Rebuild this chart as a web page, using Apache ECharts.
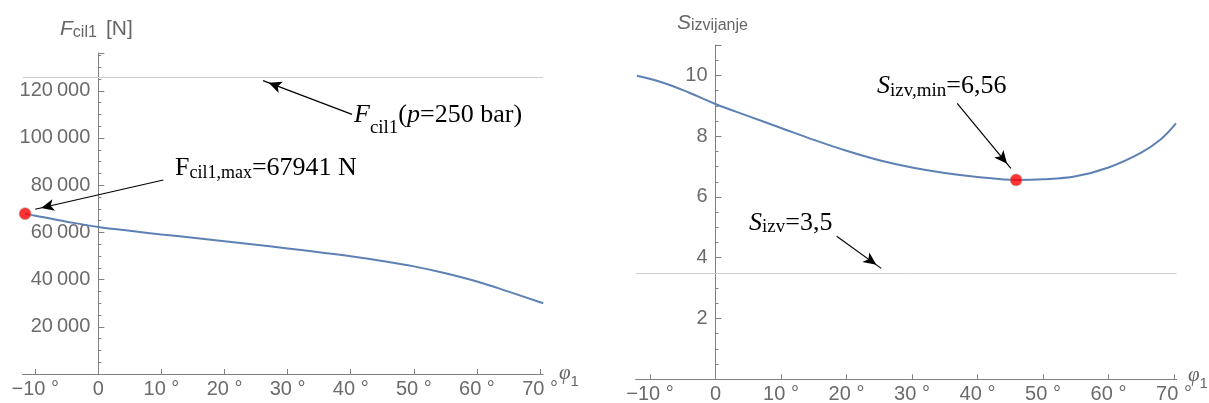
<!DOCTYPE html>
<html><head><meta charset="utf-8">
<script src="https://cdn.jsdelivr.net/npm/echarts@6/dist/echarts.min.js"></script>
<style>html,body{margin:0;padding:0;background:#fff}#c{width:1209px;height:403px}</style>
</head><body><div id="c"></div>
<script>
// ---- data ----
const phiF = [-11.6, -10, -5, 0, 5, 10, 15, 20, 25, 30, 35, 40, 45, 50, 55, 60, 65, 70.5];
const Fcil = [67941, 67080, 64550, 62300, 60650, 59150, 57700, 56250, 54750, 53200, 51600, 49900, 47900, 45600, 42700, 39200, 34900, 29950];
const FmaxPoint = [-11.6, 67941];
const Fp250 = 125664;

const phiS = [-12, -8, -4, 0, 5, 10, 15, 20, 25, 30, 35, 40, 45.9, 50, 55, 60, 65, 68, 70.3];
const Sizv = [9.99, 9.76, 9.43, 9.06, 8.66, 8.27, 7.88, 7.52, 7.21, 6.97, 6.79, 6.66, 6.56, 6.58, 6.68, 6.97, 7.46, 7.90, 8.42];
const SminPoint = [45.9, 6.56];
const Sallow = 3.5;

const xTicks = [-10, 0, 10, 20, 30, 40, 50, 60, 70];
const yTicksF = [20000, 40000, 60000, 80000, 100000, 120000];
const yTicksS = [2, 4, 6, 8, 10];

// annotation arrows [tail, tip] in data coordinates
const arrowsF = [[[40.2, 110000], [26.1, 124300]], [[10.3, 82200], [-10.0, 69800]]];
const arrowsS = [[[36.9, 9.08], [45.1, 6.94]], [[18.5, 4.71], [25.3, 3.65]]];

// ---- layout / styling ----
const G = [
  { left: 22.6, top: 53, width: 520.6, height: 321, xmin: -12, xmax: 70.5 },
  { left: 635.6, top: 45, width: 541, height: 334.3, xmin: -12.2, xmax: 70.4 }
];
const axisC = '#808080', labC = '#6b6b6b', blue = '#5E81B5', refC = '#cfcfcf';
const sans = '"Liberation Sans", Arial, sans-serif';
const serif = '"Liberation Serif", "Times New Roman", serif';

const fmtDeg = v => v === 0 ? '0' : (v < 0 ? '\u2212' + (-v) : v) + ' \u00b0';
const fmtThou = v => String(v).replace(/\B(?=(\d{3})+(?!\d))/g, '\u2009');

function xAxisCfg(gi) {
  return {
    gridIndex: gi, type: 'value', min: G[gi].xmin, max: G[gi].xmax,
    axisLine: { onZero: false, lineStyle: { color: axisC, width: 1 } },
    axisTick: { inside: true, length: 5, customValues: xTicks, lineStyle: { color: axisC } },
    axisLabel: { customValues: xTicks, formatter: fmtDeg, color: labC, fontSize: 20, fontFamily: sans, margin: 5 },
    splitLine: { show: false }
  };
}
function yAxisCfg(gi, max, interval, labels, fmt) {
  const g = G[gi];
  // place the vertical axis where x = 0 (axes cross at the origin)
  const off = -(0 - g.xmin) / (g.xmax - g.xmin) * g.width;
  return {
    gridIndex: gi, type: 'value', min: 0, max, interval, position: 'left', offset: off,
    axisLine: { show: true, onZero: false, lineStyle: { color: axisC, width: 1 } },
    axisTick: { inside: true, length: 6, lineStyle: { color: axisC } },
    minorTick: { show: true, splitNumber: 4, length: 3, lineStyle: { color: axisC } },
    axisLabel: { customValues: labels, formatter: fmt, color: labC, fontSize: 20, fontFamily: sans, margin: 8 },
    splitLine: { show: false }
  };
}
function arrowML(arr) {
  return {
    silent: true, animation: false, label: { show: false },
    lineStyle: { color: '#000', width: 1.2, type: 'solid' },
    data: arr.map(a => [
      { coord: a[0], symbol: 'none' },
      { coord: a[1], symbol: 'arrow', symbolSize: [9, 13], symbolOffset: [0, 6] }
    ])
  };
}

// rich text helper (measured segments)
const mctx = document.createElement('canvas').getContext('2d');
function rt(x, baseline, segs, color) {
  const children = []; let cx = 0;
  segs.forEach(s => {
    const fam = s.f || serif;
    mctx.font = (s.i ? 'italic ' : '') + s.size + 'px ' + fam;
    const w = mctx.measureText(s.t).width;
    if (s.x != null) cx = s.x;
    children.push({
      type: 'text', x: cx, y: (s.dy || 0) - 0.34 * s.size,
      style: { text: s.t, fontSize: s.size, fontFamily: fam, fontStyle: s.i ? 'italic' : 'normal',
               fill: color, align: 'left', verticalAlign: 'middle' }
    });
    cx += w;
  });
  return { type: 'group', x, y: baseline, children, silent: true };
}

const chart = echarts.init(document.getElementById('c'), null, { renderer: 'canvas' });
chart.setOption({
  animation: false,
  backgroundColor: '#fff',
  grid: G.map(g => ({ left: g.left, top: g.top, width: g.width, height: g.height, containLabel: false, outerBoundsMode: 'none' })),
  xAxis: [xAxisCfg(0), xAxisCfg(1)],
  yAxis: [yAxisCfg(0, 136000, 20000, yTicksF, fmtThou), yAxisCfg(1, 11, 2, yTicksS, v => String(v))],
  series: [
    { type: 'line', xAxisIndex: 0, yAxisIndex: 0, data: phiF.map((p, i) => [p, Fcil[i]]),
      smooth: 0.4, showSymbol: false, lineStyle: { color: blue, width: 2 }, z: 3,
      markLine: { silent: true, symbol: 'none', label: { show: false }, lineStyle: { color: refC, width: 1, type: 'solid' },
                  data: [{ yAxis: Fp250 }], z: 1 } },
    { type: 'scatter', xAxisIndex: 0, yAxisIndex: 0, data: [FmaxPoint], symbolSize: 12, z: 5,
      itemStyle: { color: '#ff0000', borderColor: '#aaa', borderWidth: 0.8 }, markLine: arrowML(arrowsF) },
    { type: 'line', xAxisIndex: 1, yAxisIndex: 1, data: phiS.map((p, i) => [p, Sizv[i]]),
      smooth: 0.4, showSymbol: false, lineStyle: { color: blue, width: 2 }, z: 3,
      markLine: { silent: true, symbol: 'none', label: { show: false }, lineStyle: { color: refC, width: 1, type: 'solid' },
                  data: [{ yAxis: Sallow }], z: 1 } },
    { type: 'scatter', xAxisIndex: 1, yAxisIndex: 1, data: [SminPoint], symbolSize: 12, z: 5,
      itemStyle: { color: '#ff0000', borderColor: '#aaa', borderWidth: 0.8 }, markLine: arrowML(arrowsS) }
  ],
  graphic: [
    rt(60, 36, [{ t: 'F', size: 21, i: true, f: sans }, { t: 'cil1', size: 16, f: sans, dy: 2 }, { t: '[N]', size: 21, f: sans, x: 46 }], '#666'),
    rt(677, 30, [{ t: 'S', size: 21, i: true, f: sans }, { t: 'izvijanje', size: 16, f: sans, dy: 1.5 }], '#666'),
    rt(559, 381, [{ t: '\u03c6', size: 21, i: true }, { t: '1', size: 15, f: sans, dy: 6 }], '#666'),
    rt(1188, 383, [{ t: '\u03c6', size: 21, i: true }, { t: '1', size: 15, f: sans, dy: 6 }], '#666'),
    rt(354, 124, [{ t: 'F', size: 26, i: true }, { t: 'cil1', size: 19, dy: 10 }, { t: '(', size: 26 }, { t: 'p', size: 26, i: true }, { t: '=250 bar)', size: 26 }], '#000'),
    rt(175, 177.5, [{ t: 'F', size: 26 }, { t: 'cil1,max', size: 18, dy: 2 }, { t: '=67941 N', size: 26 }], '#000'),
    rt(877, 95.5, [{ t: 'S', size: 26, i: true }, { t: 'izv,min', size: 19, dy: 1.5 }, { t: '=6,56', size: 26 }], '#000'),
    rt(749, 232, [{ t: 'S', size: 26, i: true }, { t: 'izv', size: 19, dy: 1.5 }, { t: '=3,5', size: 26 }], '#000')
  ]
});
</script></body></html>
